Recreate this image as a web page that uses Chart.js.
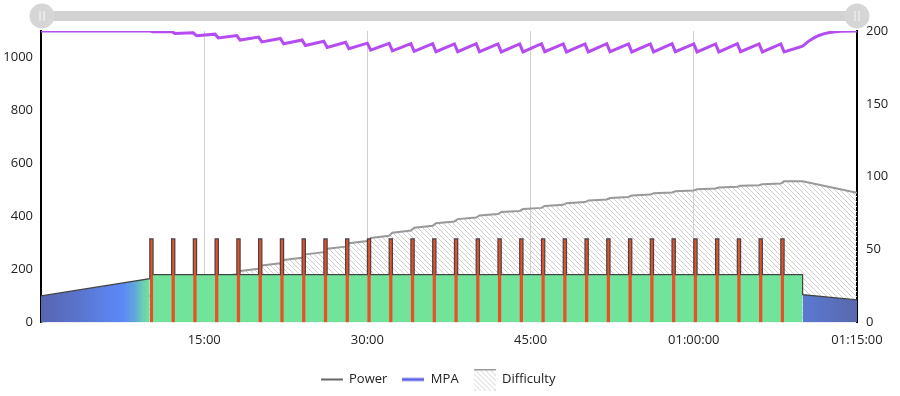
<!DOCTYPE html>
<html>
<head>
<meta charset="utf-8">
<script src="https://cdn.jsdelivr.net/npm/chart.js@4.4.1/dist/chart.umd.min.js"></script>
<style>
html,body{margin:0;padding:0;background:#fff;}
#wrap{width:900px;height:396px;position:relative;}
</style>
</head>
<body>
<div id="wrap"><canvas id="c" width="900" height="396"></canvas></div>
<script>
// ---------- DATA (time in minutes) ----------
const xTickMinutes = [0, 15, 30, 45, 60, 75];
const leftTickStep = 200;   // W
const leftMax = 1100;
const rightTickStep = 50;
const rightMax = 200;

// Power (W)
const warmupTime  = [0, 10];
const warmupWatts = [100, 165];
const intervalStart = [10,12,14,16,18,20,22,24,26,28,30,32,34,36,38,40,42,44,46,48,50,52,54,56,58,60,62,64,66,68];
const intervalOnMinutes = 0.3;
const intervalHighWatts = 315;
const intervalBaseWatts = 180;
const mainEndTime = 70;
const cooldownTime  = [70, 75];
const cooldownWatts = [105, 85];

// MPA (W): just before and just after each interval
const mpaStartWatts = 1100;
const mpaBefore = [1100,1098,1093,1088,1083,1077,1072,1066,1061,1057,1054,1053,1052,1052,1051,1052,1051,1051,1052,1051,1051,1052,1051,1051,1052,1051,1051,1052,1051,1051];
const mpaAfter  = [1097,1091,1082,1074,1066,1059,1052,1045,1038,1033,1028,1025,1023,1022,1022,1022,1021,1021,1022,1021,1021,1022,1021,1021,1022,1021,1021,1022,1021,1021];
const mpaEndTime  = [70, 70.5, 71, 71.5, 72, 72.5, 73, 73.5, 75];
const mpaEndWatts = [1043, 1060, 1073, 1083, 1090, 1094, 1097, 1099, 1100];

// Difficulty (right axis): before / after each interval
const diffStartValue = 0;
const diffBefore = [18,22,25.7,29.4,33,36.8,40.6,44.4,48.2,52,55.8,59.5,63,66.3,69.3,72,74.4,76.5,78.6,80.7,82.6,84.4,86.1,87.7,89.2,90.6,91.9,93.1,94.2,95.3];
const diffAfter  = [20.4,24.2,27.9,31.6,35.3,39.1,42.9,46.7,50.5,54.3,58,61.6,65,68.1,70.9,73.4,75.7,77.8,79.9,81.8,83.7,85.4,87.1,88.6,90,91.4,92.6,93.8,94.9,96.8];
const diffEndTime  = [70, 75];
const diffEndValue = [96.8, 89];

// ---------- BUILD SERIES ----------
const powerLine = [];
powerLine.push({x: warmupTime[0], y: warmupWatts[0]});
powerLine.push({x: warmupTime[1], y: warmupWatts[1]});
intervalStart.forEach((s, i) => {
  powerLine.push({x: s, y: intervalHighWatts});
  powerLine.push({x: s + intervalOnMinutes, y: intervalHighWatts});
  powerLine.push({x: s + intervalOnMinutes, y: intervalBaseWatts});
  if (i < intervalStart.length - 1) powerLine.push({x: intervalStart[i+1], y: intervalBaseWatts});
});
powerLine.push({x: mainEndTime, y: intervalBaseWatts});
powerLine.push({x: cooldownTime[0], y: cooldownWatts[0]});
powerLine.push({x: cooldownTime[1], y: cooldownWatts[1]});

const warmupFill = warmupTime.map((t, i) => ({x: t, y: warmupWatts[i]}));
const mainFill = [{x: intervalStart[0], y: intervalBaseWatts}, {x: mainEndTime, y: intervalBaseWatts}];
const cooldownFill = cooldownTime.map((t, i) => ({x: t, y: cooldownWatts[i]}));
const spikeFill = [];
intervalStart.forEach(s => {
  spikeFill.push({x: s, y: 0}, {x: s, y: intervalHighWatts},
                 {x: s + intervalOnMinutes, y: intervalHighWatts}, {x: s + intervalOnMinutes, y: 0});
});

const mpaLine = [{x: 0, y: mpaStartWatts}];
intervalStart.forEach((s, i) => {
  mpaLine.push({x: s, y: mpaBefore[i]});
  mpaLine.push({x: s + intervalOnMinutes, y: mpaAfter[i]});
});
mpaEndTime.forEach((t, i) => mpaLine.push({x: t, y: mpaEndWatts[i]}));

const diffLine = [{x: 0, y: diffStartValue}];
intervalStart.forEach((s, i) => {
  diffLine.push({x: s, y: diffBefore[i]});
  diffLine.push({x: s + intervalOnMinutes, y: diffAfter[i]});
});
diffEndTime.forEach((t, i) => diffLine.push({x: t, y: diffEndValue[i]}));

// ---------- STYLES ----------
const FONT = {family: "'Open Sans', 'Noto Sans', sans-serif", size: 13};
const TEXT = '#222';
const GREEN = '#72e39b';
const RED = '#e8502a';
const POWER_LINE = '#444444';
const MPA_PURPLE = '#b44cf2';
const MPA_LEGEND = '#5b5fe6';
const DIFF_LINE = '#999999';

function hatchPattern() {
  const s = 5, c = document.createElement('canvas');
  c.width = s; c.height = s;
  const g = c.getContext('2d');
  g.strokeStyle = '#cfcfcf'; g.lineWidth = 1;
  g.beginPath();
  g.moveTo(-1, -1); g.lineTo(s + 1, s + 1);
  g.moveTo(-1, s - 1); g.lineTo(1, s + 1);
  g.moveTo(s - 1, -1); g.lineTo(s + 1, 1);
  g.stroke();
  return c;
}
const hatchCanvas = hatchPattern();
const ctxMain = document.getElementById('c').getContext('2d');
const hatch = ctxMain.createPattern(hatchCanvas, 'repeat');

function lineSwatch(color, width) {
  const c = document.createElement('canvas');
  c.width = 22; c.height = 8;
  const g = c.getContext('2d');
  g.strokeStyle = color; g.lineWidth = width;
  g.beginPath(); g.moveTo(0, 4); g.lineTo(22, 4); g.stroke();
  return c;
}
function hatchSwatch() {
  const c = document.createElement('canvas');
  c.width = 22; c.height = 22;
  const g = c.getContext('2d');
  g.fillStyle = g.createPattern(hatchCanvas, 'repeat');
  g.fillRect(0, 0, 22, 22);
  g.strokeStyle = '#9b9b9b'; g.lineWidth = 2;
  g.beginPath(); g.moveTo(0, 1); g.lineTo(22, 1); g.stroke();
  return c;
}

function hGradient(ctx, t0, t1, stops) {
  const chart = ctx.chart;
  if (!chart.chartArea) return stops[0][1];
  const xs = chart.scales.x;
  const x0 = xs.getPixelForValue(t0), x1 = xs.getPixelForValue(t1);
  const g = chart.ctx.createLinearGradient(x0, 0, x1, 0);
  stops.forEach(([p, col]) => g.addColorStop(p, col));
  return g;
}

function fmtTime(m) {
  if (m === 0) return '';
  const h = Math.floor(m / 60), mm = Math.round(m % 60);
  const p = n => String(n).padStart(2, '0');
  return h > 0 ? `${p(h)}:${p(mm)}:00` : `${p(mm)}:00`;
}

const sliderPlugin = {
  id: 'slider',
  afterLayout(chart) {
    // nudge legend to the reference position
    if (chart.legend) { chart.legend.left -= 12; chart.legend.right -= 12; }
  },
  afterDraw(chart) {
    const {ctx, chartArea} = chart;
    const cy = chartArea.top - 15;
    const l = chartArea.left + 1, r = chartArea.right;
    ctx.save();
    ctx.fillStyle = '#d2d2d2';
    ctx.fillRect(l, cy - 5, r - l, 10);
    [l, r].forEach(cx => {
      ctx.beginPath(); ctx.arc(cx, cy, 12.5, 0, Math.PI * 2);
      ctx.fillStyle = '#d6d6d6'; ctx.fill();
      ctx.strokeStyle = 'rgba(255,255,255,0.85)'; ctx.lineWidth = 1;
      ctx.beginPath();
      ctx.moveTo(cx - 2, cy - 5); ctx.lineTo(cx - 2, cy + 5);
      ctx.moveTo(cx + 2, cy - 5); ctx.lineTo(cx + 2, cy + 5);
      ctx.stroke();
    });
    ctx.restore();
  }
};

const legendItems = [
  {text: 'Power', pointStyle: lineSwatch('#666', 2)},
  {text: 'MPA', pointStyle: lineSwatch(MPA_LEGEND, 3)},
  {text: 'Difficulty', pointStyle: hatchSwatch()}
];

new Chart(ctxMain, {
  type: 'line',
  data: {
    datasets: [
      {label: 'MPA', data: mpaLine, yAxisID: 'y', borderColor: MPA_PURPLE, borderWidth: 3,
       fill: false, order: 0, clip: 0},
      {label: 'Power', data: powerLine, yAxisID: 'y', borderColor: POWER_LINE, borderWidth: 1.2,
       fill: false, order: 1},
      {label: 'spikes', data: spikeFill, yAxisID: 'y', borderWidth: 0, borderColor: 'rgba(0,0,0,0)',
       backgroundColor: RED, fill: 'origin', order: 2},
      {label: 'main', data: mainFill, yAxisID: 'y', borderWidth: 0, borderColor: 'rgba(0,0,0,0)',
       backgroundColor: GREEN, fill: 'origin', order: 3},
      {label: 'warmup', data: warmupFill, yAxisID: 'y', borderWidth: 0, borderColor: 'rgba(0,0,0,0)',
       backgroundColor: ctx => hGradient(ctx, 0, 10, [[0, '#5766b2'], [0.3, '#5a72c8'], [0.6, '#5b82ea'], [0.75, '#5b88f7'], [0.86, '#60a6dc'], [0.94, '#6ad0b0'], [1, GREEN]]),
       fill: 'origin', order: 4},
      {label: 'cooldown', data: cooldownFill, yAxisID: 'y', borderWidth: 0, borderColor: 'rgba(0,0,0,0)',
       backgroundColor: ctx => hGradient(ctx, 70, 75, [[0, '#5a7ad2'], [1, '#5968ad']]),
       fill: 'origin', order: 5},
      {label: 'Difficulty', data: diffLine, yAxisID: 'y1', borderColor: DIFF_LINE, borderWidth: 2,
       backgroundColor: hatch, fill: 'origin', order: 6}
    ]
  },
  options: {
    responsive: false,
    animation: false,
    devicePixelRatio: 1,
    parsing: false,
    normalized: true,
    elements: {point: {radius: 0, hoverRadius: 0}, line: {tension: 0, borderJoinStyle: 'miter'}},
    layout: {padding: {top: 31, left: 0, right: 0, bottom: 0}},
    plugins: {
      tooltip: {enabled: false},
      legend: {
        position: 'bottom',
        labels: {
          usePointStyle: true,
          pointStyleWidth: 22,
          padding: 15,
          font: FONT,
          color: TEXT,
          generateLabels: () => legendItems.map((it, i) => ({
            text: it.text, pointStyle: it.pointStyle, datasetIndex: i,
            fillStyle: 'rgba(0,0,0,0)', strokeStyle: 'rgba(0,0,0,0)', lineWidth: 0, hidden: false, fontColor: TEXT
          }))
        },
        onClick: () => {}
      }
    },
    scales: {
      x: {
        type: 'linear', min: xTickMinutes[0], max: xTickMinutes[xTickMinutes.length - 1],
        afterBuildTicks: s => { s.ticks = xTickMinutes.map(v => ({value: v})); },
        ticks: {callback: v => fmtTime(v), font: FONT, color: TEXT, padding: 10, maxRotation: 0, autoSkip: false},
        grid: {color: '#d0d0d0', lineWidth: 1, drawTicks: false, tickLength: 0},
        border: {display: false}
      },
      y: {
        position: 'left', min: 0, max: leftMax,
        ticks: {stepSize: leftTickStep, includeBounds: false, font: FONT, color: TEXT, padding: 8,
                callback: v => String(v)},
        grid: {display: false, drawTicks: false, tickLength: 0},
        border: {display: true, color: '#000', width: 2},
        afterFit: s => { s.width = 41; }
      },
      y1: {
        position: 'right', min: 0, max: rightMax,
        ticks: {stepSize: rightTickStep, font: FONT, color: TEXT, padding: 9, callback: v => String(v)},
        grid: {display: false, drawTicks: false, tickLength: 0},
        border: {display: true, color: '#000', width: 2},
        afterFit: s => { s.width = 43; }
      }
    }
  },
  plugins: [sliderPlugin]
});
</script>
</body>
</html>
